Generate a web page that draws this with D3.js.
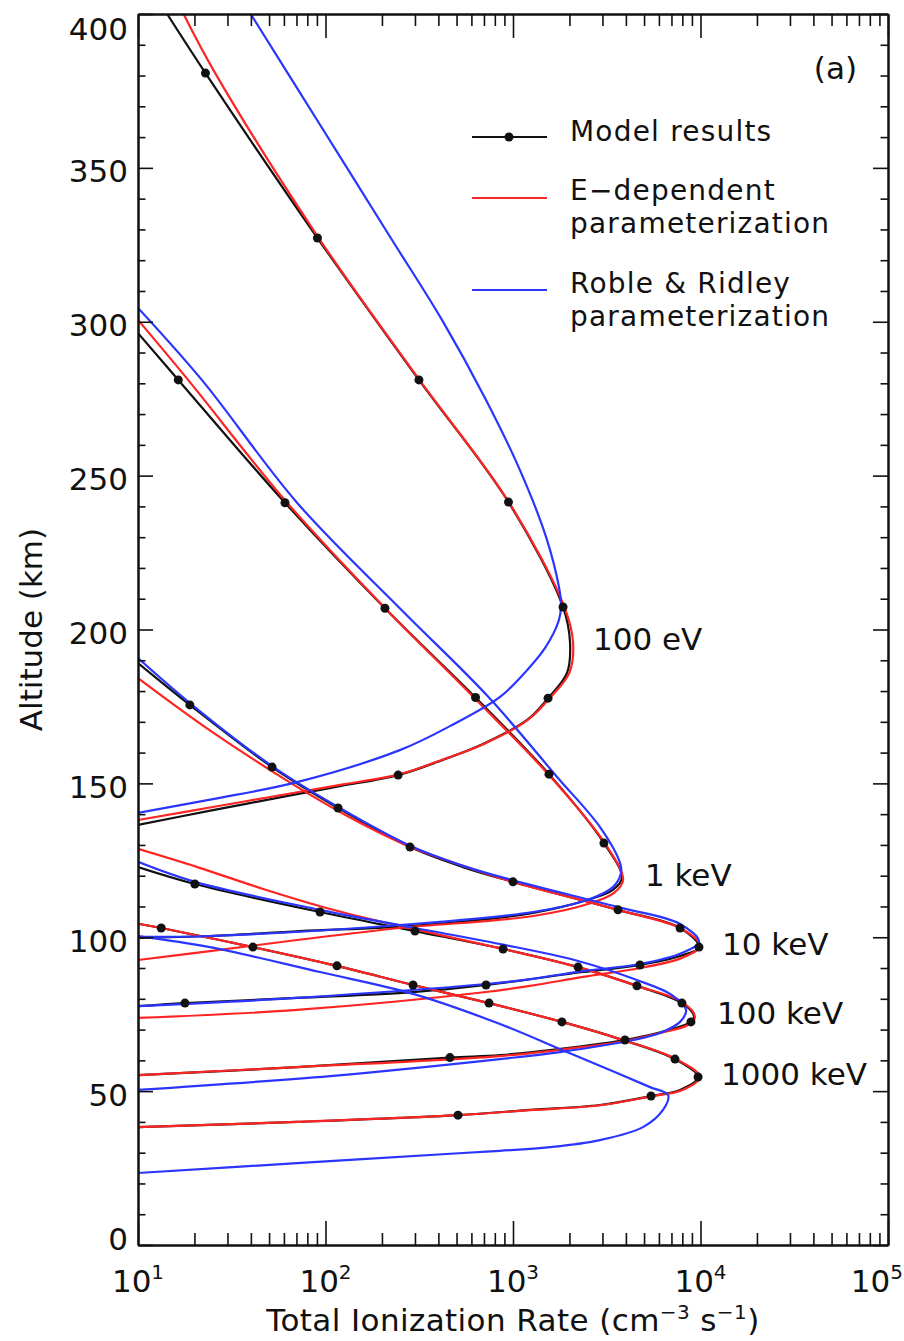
<!DOCTYPE html>
<html>
<head>
<meta charset="utf-8">
<script src="https://cdn.jsdelivr.net/npm/d3@7"></script>
<style>
    body { margin: 0; background: #fff; }
    svg text { font-family: "DejaVu Sans", sans-serif; fill: #111; font-size: 31px; }
</style>
</head>
<body>
<div id="chart"></div>
<script>
// energies of the incident electrons
const energies = ["100 eV", "1 keV", "10 keV", "100 keV", "1000 keV"];

// axis ticks
const xTickExps = [1, 2, 3, 4, 5];
const yTickLabels = [0, 50, 100, 150, 200, 250, 300, 350, 400];

// each profile is [ionization rate, altitude km], read from top to bottom
const model100eV = [[14.3,400],[22.9,380.8],[90.6,327.2],[315,281.1],[946,241.4],[1849,207.3],[2014,195.9],[1941,185.9],[1538,177.7],[1189,170.6],[692,162.8],[408,157.3],[244,152.7],[119.4,149.1],[70.5,146.5],[25.1,141.3],[10,136.5]];
const model1keV = [[10,296.3],[16.4,281.1],[60.8,241.2],[207.5,206.9],[631,177.9],[1556,153.0],[3055,130.6],[3811,119.3],[3412,115.4],[2483,112.1],[1279,107.9],[293,103.7],[73.1,102.0],[24.2,100.4],[10,99.8]];
const model10keV = [[10,189.1],[18.9,175.5],[51.9,155.3],[116.7,142.0],[282.5,129.3],[541,122.8],[1000,118.0],[3631,108.9],[7780,103.0],[9817,96.8],[7780,93.9],[4753,91.0],[2360,88.7],[718,84.5],[293,82.2],[70.5,80.3],[17.8,78.6],[10,77.6]];
const model100keV = [[10,122.8],[20.1,117.3],[93.5,108.2],[300,102.0],[885,96.2],[2223,90.3],[4581,84.2],[7962,78.6],[9226,74.4],[8892,72.5],[6471,69.5],[3954,66.6],[1941,64.0],[853,61.7],[461,60.9],[70.5,57.8],[10,55.2]];
const model1000keV = [[10,104.4],[13.3,103.0],[41.0,96.8],[115.1,90.7],[293,84.5],[745,78.6],[1824,72.5],[3724,66.9],[7311,60.4],[9705,54.6],[7780,50.4],[5445,48.4],[2911,45.5],[1233,43.9],[509,42.2],[70.5,40.0],[10,38.3]];

const edep100eV = [[17.5,400],[25.8,380.8],[92,327.2],[317,281.1],[950,241.4],[1880,207.3],[2090,195.9],[2000,186.0],[1570,177.7],[1200,170.6],[700,162.8],[412,157.5],[250,153.0],[122,149.6],[72,147.2],[25.5,142.4],[10,138.1]];
const edep1keV = [[10,300.6],[18.5,281.1],[62.4,241.2],[207.5,207.0],[619,177.9],[1556,152.7],[3133,130.0],[3864,118.6],[3459,114.4],[2512,110.8],[1279,106.9],[249,103.0],[70.5,99.1],[24.2,95.5],[10,92.6]];
const edep10keV = [[10,184.2],[22.8,168.3],[59.3,151.7],[119.4,140.7],[195.4,133.9],[293,129.0],[541,123.2],[1000,118.0],[3631,108.9],[7962,102.7],[9931,97.2],[7962,93.3],[4753,90.0],[2360,87.1],[1233,84.2],[718,82.2],[70.5,76.4],[10,73.8]];
const edep100keV = [[10,128.7],[20.7,122.8],[46.5,115.7],[105.7,109.2],[293,102.7],[885,96.2],[2223,90.3],[4581,84.2],[7962,79.0],[9354,74.1],[8570,71.5],[6081,68.9],[3954,66.3],[1941,63.7],[853,61.4],[70.5,57.8],[10,55.2]];
const edep1000keV = [[10,104.4],[13.3,103.0],[41.0,96.8],[115.1,90.7],[293,84.5],[745,78.6],[1824,72.5],[3724,66.9],[7311,60.6],[9931,54.6],[7962,50.3],[5445,48.3],[2911,45.4],[1233,43.8],[509,42.2],[70.5,40.0],[10,38.3]];

const roble100eV = [[39.9,400],[94.4,363.6],[223,327.2],[418,300.6],[718,274.6],[1089,251.8],[1500,230.1],[1758,213.8],[1803,208.0],[1758,203.1],[1483,194.0],[1189,186.8],[853,178.1],[461,168.6],[249,160.8],[70.5,150.4],[25.1,144.9],[10,140.4]];
const roble1keV = [[10,304.5],[21.9,281.1],[70.5,241.2],[249,206.9],[736,178.2],[1718,152.1],[2911,135.8],[3724,124.1],[3767,120.9],[3412,116.3],[2483,112.1],[1279,108.2],[293,104.3],[24.2,100.4],[10,100.1]];
const roble10keV = [[10,190.7],[18.9,176.1],[51.9,155.6],[116.7,142.3],[282.5,129.7],[541,123.2],[1000,118.5],[3631,109.8],[7780,104.3],[9817,98.5],[7962,94.9],[4753,91.3],[2360,89.0],[1233,86.4],[718,84.8],[70.5,80.3],[10,77.6]];
const roble100keV = [[10,124.5],[20.1,118.0],[93.5,108.9],[300,103.0],[853,97.8],[2223,92.3],[4581,86.1],[7047,81.2],[8375,76.4],[7780,72.5],[6081,68.9],[4365,66.6],[1782,62.7],[853,60.4],[105.7,54.9],[10,50.4]];
const roble1000keV = [[10,100.4],[24.2,96.8],[93.5,88.7],[293,81.6],[853,71.8],[1941,62.7],[3589,55.9],[5383,51.3],[6714,48.7],[6310,43.9],[4932,38.3],[2911,34.1],[1574,31.8],[853,30.6],[541,29.9],[70.5,26.6],[10,23.4]];

// model grid points that are marked with dots
const dots100eV = [[22.9,380.8],[90.6,327.2],[315,281.1],[946,241.4],[1849,207.3],[1538,177.7],[244,152.7]];
const dots1keV = [[16.4,281.1],[60.8,241.2],[207.5,206.9],[631,177.9],[1556,153.0],[3055,130.6]];
const dots10keV = [[18.9,175.5],[51.9,155.3],[116.7,142.0],[282.5,129.3],[1000,118.0],[3631,108.9],[7780,103.0],[9817,96.8],[4753,91.0],[718,84.5],[17.8,78.6]];
const dots100keV = [[20.1,117.3],[93.5,108.2],[300,102.0],[885,96.2],[2223,90.3],[4581,84.2],[7962,78.6],[8892,72.5],[3954,66.6],[461,60.9]];
const dots1000keV = [[13.3,103.0],[41.0,96.8],[115.1,90.7],[293,84.5],[745,78.6],[1824,72.5],[7311,60.4],[9705,54.6],[5445,48.4],[509,42.2]];

const modelCurves = [model100eV, model1keV, model10keV, model100keV, model1000keV];
const edepCurves = [edep100eV, edep1keV, edep10keV, edep100keV, edep1000keV];
const robleCurves = [roble100eV, roble1keV, roble10keV, roble100keV, roble1000keV];
const modelDots = [dots100eV, dots1keV, dots10keV, dots100keV, dots1000keV];

const red = "#ff2424";
const blue = "#2a35ff";

const pLeft = 138, pRight = 888, pTop = 14, pBottom = 1245;

const svg = d3.select("#chart")
    .append("svg")
    .attr("width", 904)
    .attr("height", 1341);

const x = d3.scaleLog()
    .domain([10, 1e5])
    .range([pLeft, pRight]);

const y = d3.scaleLinear()
    .domain([0, 400])
    .range([pBottom, pTop]);

svg.append("clipPath")
    .attr("id", "plotclip")
    .append("rect")
    .attr("x", pLeft)
    .attr("y", pTop)
    .attr("width", pRight - pLeft)
    .attr("height", pBottom - pTop);

// profiles fold back on themselves, so a centripetal spline through the read points
const line = d3.line()
    .x(d => x(d[0]))
    .y(d => y(d[1]))
    .curve(d3.curveCatmullRom.alpha(0.5));

const plot = svg.append("g").attr("clip-path", "url(#plotclip)");

function drawCurves(curves, color, cls) {
    plot.selectAll("." + cls)
        .data(curves)
        .enter()
        .append("path")
        .attr("class", cls)
        .attr("d", line)
        .style("fill", "none")
        .style("stroke", color)
        .style("stroke-width", 2.2);
}
drawCurves(modelCurves, "#111", "model");
drawCurves(edepCurves, red, "edep");
drawCurves(robleCurves, blue, "roble");

plot.selectAll(".dot")
    .data(modelDots.flat())
    .enter()
    .append("circle")
    .attr("class", "dot")
    .attr("cx", d => x(d[0]))
    .attr("cy", d => y(d[1]))
    .attr("r", 4.5)
    .style("fill", "#111");

// energy labels sit just right of the peak of each model profile
function peak(d) {
    const m = d3.max(d, p => p[0]);
    return d.find(p => p[0] === m);
}
svg.selectAll(".elabel")
    .data(modelCurves)
    .enter()
    .append("text")
    .attr("class", "elabel")
    .attr("x", d => x(peak(d)[0]) + 23)
    .attr("y", d => y(peak(d)[1]) + 8)
    .text((d, i) => energies[i]);

// axes, IDL style with ticks on all four sides pointing in
const xMajor = xTickExps.map(e => Math.pow(10, e));
const xMinor = [];
xMajor.slice(0, -1).forEach(v => d3.range(2, 10).forEach(m => xMinor.push(v * m)));
const yMinor = d3.range(0, 401, 10).filter(v => v % 50 !== 0);

function styleAxis(g) {
    g.selectAll(".domain").style("stroke", "#111").style("stroke-width", 2);
    g.selectAll(".tick line").style("stroke", "#111").style("stroke-width", 1.6);
}

svg.append("g").attr("transform", `translate(0,${pBottom})`)
    .call(d3.axisBottom(x).tickValues(xMajor).tickSizeInner(-24).tickSizeOuter(0).tickFormat(""))
    .call(styleAxis);
svg.append("g").attr("transform", `translate(0,${pBottom})`)
    .call(d3.axisBottom(x).tickValues(xMinor).tickSizeInner(-12).tickSizeOuter(0).tickFormat(""))
    .call(styleAxis);
svg.append("g").attr("transform", `translate(0,${pTop})`)
    .call(d3.axisTop(x).tickValues(xMajor).tickSizeInner(-24).tickSizeOuter(0).tickFormat(""))
    .call(styleAxis);
svg.append("g").attr("transform", `translate(0,${pTop})`)
    .call(d3.axisTop(x).tickValues(xMinor).tickSizeInner(-12).tickSizeOuter(0).tickFormat(""))
    .call(styleAxis);

// labels at the two ends are kept inside the frame height, like the original
svg.append("g").attr("transform", `translate(${pLeft},0)`)
    .call(d3.axisLeft(y).tickValues(yTickLabels).tickSizeInner(-15).tickSizeOuter(0).tickPadding(10))
    .call(styleAxis)
    .selectAll("text")
    .attr("dy", d => d === 400 ? 25 : (d === 0 ? 4 : 14))
    .style("font-size", "31px").style("font-family", "DejaVu Sans").style("fill", "#111");
svg.append("g").attr("transform", `translate(${pLeft},0)`)
    .call(d3.axisLeft(y).tickValues(yMinor).tickSizeInner(-7.5).tickSizeOuter(0).tickFormat(""))
    .call(styleAxis);
svg.append("g").attr("transform", `translate(${pRight},0)`)
    .call(d3.axisRight(y).tickValues(yTickLabels).tickSizeInner(-15).tickSizeOuter(0).tickFormat(""))
    .call(styleAxis);
svg.append("g").attr("transform", `translate(${pRight},0)`)
    .call(d3.axisRight(y).tickValues(yMinor).tickSizeInner(-7.5).tickSizeOuter(0).tickFormat(""))
    .call(styleAxis);

// x tick labels as 10^n, the last one pulled in so it stays on the page
svg.selectAll(".xlab")
    .data(xTickExps)
    .enter()
    .append("text")
    .attr("class", "xlab")
    .attr("x", d => d === 5 ? 903 : x(Math.pow(10, d)))
    .attr("y", 1292)
    .attr("text-anchor", d => d === 5 ? "end" : "middle")
    .each(function(d) {
        const t = d3.select(this);
        t.append("tspan").text("10");
        t.append("tspan").attr("dy", -13).style("font-size", "20px").text(d);
    });

// axis titles
const xt = svg.append("text")
    .attr("x", (pLeft + pRight) / 2)
    .attr("y", 1331)
    .attr("text-anchor", "middle")
    .style("letter-spacing", "0.4px");
xt.append("tspan").text("Total Ionization Rate (cm");
xt.append("tspan").attr("dy", -12).style("font-size", "20px").text("−3");
xt.append("tspan").attr("dy", 12).text(" s");
xt.append("tspan").attr("dy", -12).style("font-size", "20px").text("−1");
xt.append("tspan").attr("dy", 12).text(")");

svg.append("text")
    .attr("transform", `translate(42,${(pTop + pBottom) / 2}) rotate(-90)`)
    .attr("text-anchor", "middle")
    .text("Altitude (km)");

svg.append("text")
    .attr("x", 857)
    .attr("y", 79)
    .attr("text-anchor", "end")
    .text("(a)");

// legend
const legend = svg.append("g");
legend.append("line").attr("x1", 472).attr("x2", 547).attr("y1", 137).attr("y2", 137)
    .style("stroke", "#111").style("stroke-width", 2.2);
legend.append("circle").attr("cx", 509).attr("cy", 137).attr("r", 4.5).style("fill", "#111");
legend.append("line").attr("x1", 472).attr("x2", 547).attr("y1", 198).attr("y2", 198)
    .style("stroke", red).style("stroke-width", 2.2);
legend.append("line").attr("x1", 472).attr("x2", 547).attr("y1", 290).attr("y2", 290)
    .style("stroke", blue).style("stroke-width", 2.2);

const legendText = [[["Model results"], 141], [["E−dependent", "parameterization"], 200], [["Roble & Ridley", "parameterization"], 293]];
legend.selectAll(".legend-label")
    .data(legendText)
    .enter()
    .append("text")
    .attr("class", "legend-label")
    .attr("y", d => d[1])
    .style("font-size", "28px")
    .style("letter-spacing", "1.2px")
    .each(function(d) {
        const t = d3.select(this);
        d[0].forEach((s, i) => t.append("tspan").attr("x", 570).attr("dy", i === 0 ? 0 : 33).text(s));
    });
</script>
</body>
</html>
